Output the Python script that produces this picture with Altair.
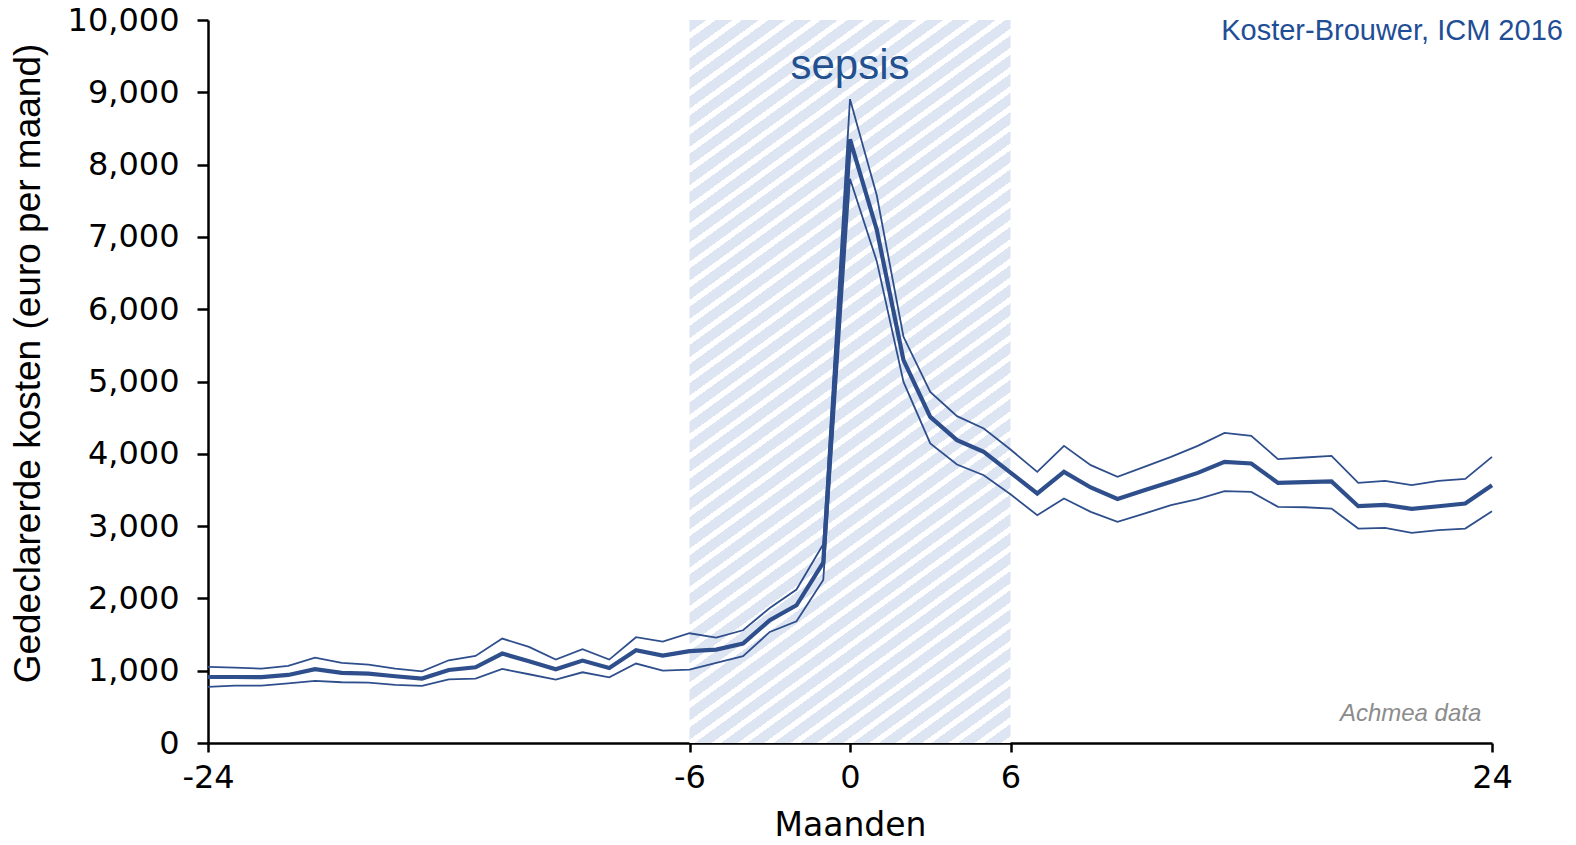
import altair as alt
import pandas as pd
import math

# ---------------- data ----------------
months = [-24, -23, -22, -21, -20, -19, -18, -17, -16, -15, -14, -13, -12, -11, -10,
          -9, -8, -7, -6, -5, -4, -3, -2, -1, 0, 1, 2, 3, 4, 5, 6, 7, 8, 9, 10,
          11, 12, 13, 14, 15, 16, 17, 18, 19, 20, 21, 22, 23, 24]

mean_cost = [913, 913, 910, 941, 1020, 969, 960, 923, 891, 1010, 1047, 1237, 1130, 1020, 1140,
             1038, 1283, 1209, 1270, 1292, 1375, 1698, 1905, 2495, 8350, 7100, 5296, 4511, 4189, 4027,
             3740, 3451, 3750, 3534, 3376, 3497, 3612, 3736, 3888, 3866, 3598, 3607, 3617, 3275,
             3293, 3238, 3275, 3312, 3566]

upper_cost = [1052, 1043, 1029, 1066, 1181, 1107, 1084, 1029, 992, 1144, 1204, 1444, 1329, 1154, 1297,
              1154, 1463, 1403, 1518, 1458, 1559, 1868, 2122, 2750, 8905, 7575, 5618, 4857, 4521, 4350,
              4060, 3750, 4110, 3843, 3681, 3819, 3958, 4110, 4290, 4248, 3926, 3949, 3972, 3598,
              3625, 3566, 3625, 3653, 3958]

lower_cost = [775, 794, 794, 826, 858, 840, 835, 803, 789, 881, 891, 1024, 951, 877, 978,
              909, 1099, 1002, 1015, 1107, 1200, 1536, 1684, 2255, 7805, 6665, 4995, 4143, 3852, 3704,
              3440, 3151, 3381, 3197, 3058, 3174, 3289, 3372, 3483, 3473, 3266, 3261, 3243, 2966,
              2976, 2906, 2943, 2966, 3206]

x_ticks = [-24, -6, 0, 6, 24]
y_ticks = [0, 500, 1000, 1500, 2000, 2500, 3000, 3500, 4000, 4500, 5000,
           5500, 6000, 6500, 7000, 7500, 8000, 8500, 9000, 9500, 10000]
x_domain = [-24, 24]
y_domain = [0, 10000]

band_months = [-6, 6]          # sepsis period (shaded)
sepsis_label = ["sepsis"]
sepsis_pos = [0, 9190]
source_label = ["Achmea data"]
source_pos = [23.6, 311]
credit_label = ["Koster-Brouwer, ICM 2016"]
credit_pos = [26.65, 9723]

# ---------------- styling ----------------
W, H = 1284, 723
LINE = "#2F4F8C"
BAND = "#DEE5F2"

df = pd.DataFrame({"maand": months, "gemiddelde": mean_cost,
                   "bovengrens": upper_cost, "ondergrens": lower_cost})
long_df = df.melt("maand", var_name="reeks", value_name="kosten")

band_df = pd.DataFrame({"x0": [band_months[0]], "x1": [band_months[1]],
                        "y0": [y_domain[0]], "y1": [y_domain[1]]})

# diagonal hatch built as a hard-stop linear gradient
band_w = W * (band_months[1] - band_months[0]) / (x_domain[1] - x_domain[0])
theta = math.radians(36)
k = (H / band_w) / math.tan(theta)
gx = (1 + k) / (1 + k * k)
gy = k * gx
span = band_w * math.sin(theta) + H * math.cos(theta)
n_per = int(round(span / 15.5))
white = 0.36
stops = []
for i in range(n_per):
    a = i / n_per
    m = (i + 1 - white) / n_per
    b = (i + 1) / n_per
    stops += [{"offset": round(a, 6), "color": BAND},
              {"offset": round(m, 6), "color": BAND},
              {"offset": round(m, 6), "color": "#FFFFFF"},
              {"offset": round(min(b, 1.0), 6), "color": "#FFFFFF"}]
hatch = {"gradient": "linear", "x1": 0, "y1": 0, "x2": gx, "y2": gy, "stops": stops}

x_axis = alt.Axis(values=x_ticks, labelExpr="'' + datum.value", grid=False,
                  labelFont="DejaVu Sans", labelFontSize=32, labelColor="black",
                  labelPadding=10, labelFlush=False, labelOverlap=False,
                  tickSize=9, tickWidth=2.5, tickColor="black",
                  domainColor="black", domainWidth=2.5,
                  titleFont="DejaVu Sans", titleFontSize=33, titleFontWeight="normal",
                  titleColor="black", titlePadding=16)
y_axis = alt.Axis(values=y_ticks,
                  labelExpr="datum.value % 1000 === 0 ? format(datum.value, ',') : ''",
                  grid=False, labelFont="DejaVu Sans", labelFontSize=32, labelColor="black",
                  labelPadding=18, labelFlush=False, labelOverlap=False,
                  tickSize={"condition": {"test": "datum.value % 1000 === 0", "value": 11}, "value": 5},
                  tickWidth=2.5, tickColor="black",
                  domainColor="black", domainWidth=2.5,
                  titleFont="Liberation Sans", titleFontSize=37, titleFontWeight="normal",
                  titleColor="black", titlePadding=20, titleY=343)

xs = alt.Scale(domain=x_domain, nice=False, zero=False)
ys = alt.Scale(domain=y_domain, nice=False)
x_title = "Maanden"
y_title = "Gedeclarerde kosten (euro per maand)"

band = alt.Chart(band_df).mark_rect(fill=hatch).encode(
    x=alt.X("x0:Q", scale=xs, axis=x_axis, title=x_title),
    x2="x1:Q",
    y=alt.Y("y0:Q", scale=ys, axis=y_axis, title=y_title),
    y2="y1:Q",
)

lines = alt.Chart(long_df).mark_line(color=LINE, strokeJoin="miter").encode(
    x=alt.X("maand:Q", scale=xs, axis=x_axis, title=x_title),
    y=alt.Y("kosten:Q", scale=ys, axis=y_axis, title=y_title),
    detail="reeks:N",
    strokeWidth=alt.condition(alt.datum.reeks == "gemiddelde", alt.value(4.2), alt.value(1.8)),
)

sep_df = pd.DataFrame({"t": sepsis_label, "x": [sepsis_pos[0]], "y": [sepsis_pos[1]]})
sep = alt.Chart(sep_df).mark_text(font="Liberation Sans", fontSize=42, color="#23508F",
                                  align="center", baseline="alphabetic").encode(
    x=alt.X("x:Q", scale=xs), y=alt.Y("y:Q", scale=ys), text="t:N")

src_df = pd.DataFrame({"t": source_label, "x": [source_pos[0]], "y": [source_pos[1]]})
src = alt.Chart(src_df).mark_text(font="Liberation Sans", fontSize=24, fontStyle="italic",
                                  color="#8C8C8C", align="right", baseline="alphabetic").encode(
    x=alt.X("x:Q", scale=xs), y=alt.Y("y:Q", scale=ys), text="t:N")

cred_df = pd.DataFrame({"t": credit_label, "x": [credit_pos[0]], "y": [credit_pos[1]]})
cred = alt.Chart(cred_df).mark_text(font="Liberation Sans", fontSize=29, color="#1F4E96",
                                    align="right", baseline="alphabetic").encode(
    x=alt.X("x:Q", scale=xs), y=alt.Y("y:Q", scale=ys), text="t:N")

chart = alt.layer(band, lines, sep, src, cred).properties(
    width=W, height=H,
    autosize=alt.AutoSizeParams(type="none"),
    padding={"left": 200, "top": 12, "right": 76, "bottom": 100},
).configure(background="white").configure_view(stroke=None)

chart.save("out.html", embed_options={"renderer": "svg", "actions": False})
